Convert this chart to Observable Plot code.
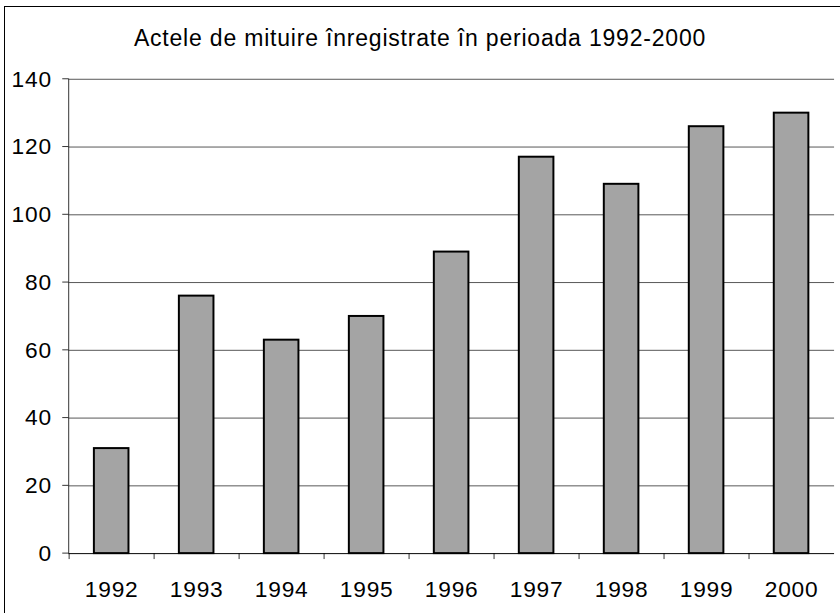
<!DOCTYPE html>
<html>
<head>
<meta charset="utf-8">
<script src="https://cdn.jsdelivr.net/npm/d3@7"></script>
<script src="https://cdn.jsdelivr.net/npm/@observablehq/plot@0.6"></script>
<style>
  html, body { margin: 0; padding: 0; background: #fff; }
  #wrap { position: relative; width: 840px; height: 613px; overflow: hidden; background: #fff; }
  #frame { position: absolute; left: 4px; top: 6px; width: 900px; height: 700px; border-left: 1.5px solid #000; border-top: 1.5px solid #000; box-sizing: border-box; }
  #title { position: absolute; left: 0; top: 25px; width: 840px; text-align: center; font-family: "Liberation Sans", Arial, sans-serif; font-size: 23px; letter-spacing: 0.8px; color: #000; }
  #chart { position: absolute; left: 0; top: 60px; }
</style>
</head>
<body>
<div id="wrap">
  <div id="frame"></div>
  <div id="title">Actele de mituire înregistrate în perioada 1992-2000</div>
  <div id="chart"></div>
</div>
<script>
const years = ["1992", "1993", "1994", "1995", "1996", "1997", "1998", "1999", "2000"];
const counts = [31, 76, 63, 70, 89, 117, 109, 126, 130];
const yTicks = [0, 20, 40, 60, 80, 100, 120, 140];

const data = years.map((y, i) => ({year: y, count: counts[i]}));

const W = 850, H = 553;
const mL = 69, mR = 6, mT = 19, mB = 54;
const step = (W - mL - mR) / years.length;
const font = "Liberation Sans, Arial, sans-serif";

const plot = Plot.plot({
  width: W,
  height: H,
  marginLeft: mL,
  marginRight: mR,
  marginTop: mT,
  marginBottom: mB,
  style: {fontFamily: font, background: "transparent", overflow: "visible", letterSpacing: "0.8px"},
  x: {type: "band", domain: years, paddingInner: 0.59, paddingOuter: 0.295, axis: null},
  y: {domain: [0, 140], axis: null},
  marks: [
    Plot.ruleY(yTicks.filter(d => d > 0), {stroke: "#555", strokeWidth: 1}),
    Plot.barY(data, {x: "year", y: "count", fill: "#a4a4a4", stroke: "#000", strokeWidth: 2}),
    Plot.ruleX(years, {x: d => d, y1: 0, y2: 0, dx: -step / 2, insetBottom: -6, stroke: "#333", strokeWidth: 1}),
    Plot.ruleY([0], {stroke: "#000", strokeWidth: 1}),
    Plot.text(yTicks, {y: d => d, text: d => String(d), frameAnchor: "left", dx: -17, textAnchor: "end", fontSize: 23, fill: "#000"}),
    Plot.text(years, {x: d => d, y: 0, text: d => d, dy: 37, fontSize: 23, fill: "#000"})
  ]
});

// y axis line and left ticks drawn with the plot's own y scale
const yScale = plot.scale("y");
const svg = d3.select(plot);
const yAxis = svg.append("g").attr("stroke", "#333").attr("stroke-width", 1);
yAxis.append("line").attr("x1", mL + 0.5).attr("x2", mL + 0.5).attr("y1", yScale.apply(140)).attr("y2", yScale.apply(0));
yTicks.forEach(t => {
  yAxis.append("line").attr("x1", mL - 6).attr("x2", mL + 0.5).attr("y1", yScale.apply(t)).attr("y2", yScale.apply(t));
});

document.getElementById("chart").appendChild(plot);
</script>
</body>
</html>
